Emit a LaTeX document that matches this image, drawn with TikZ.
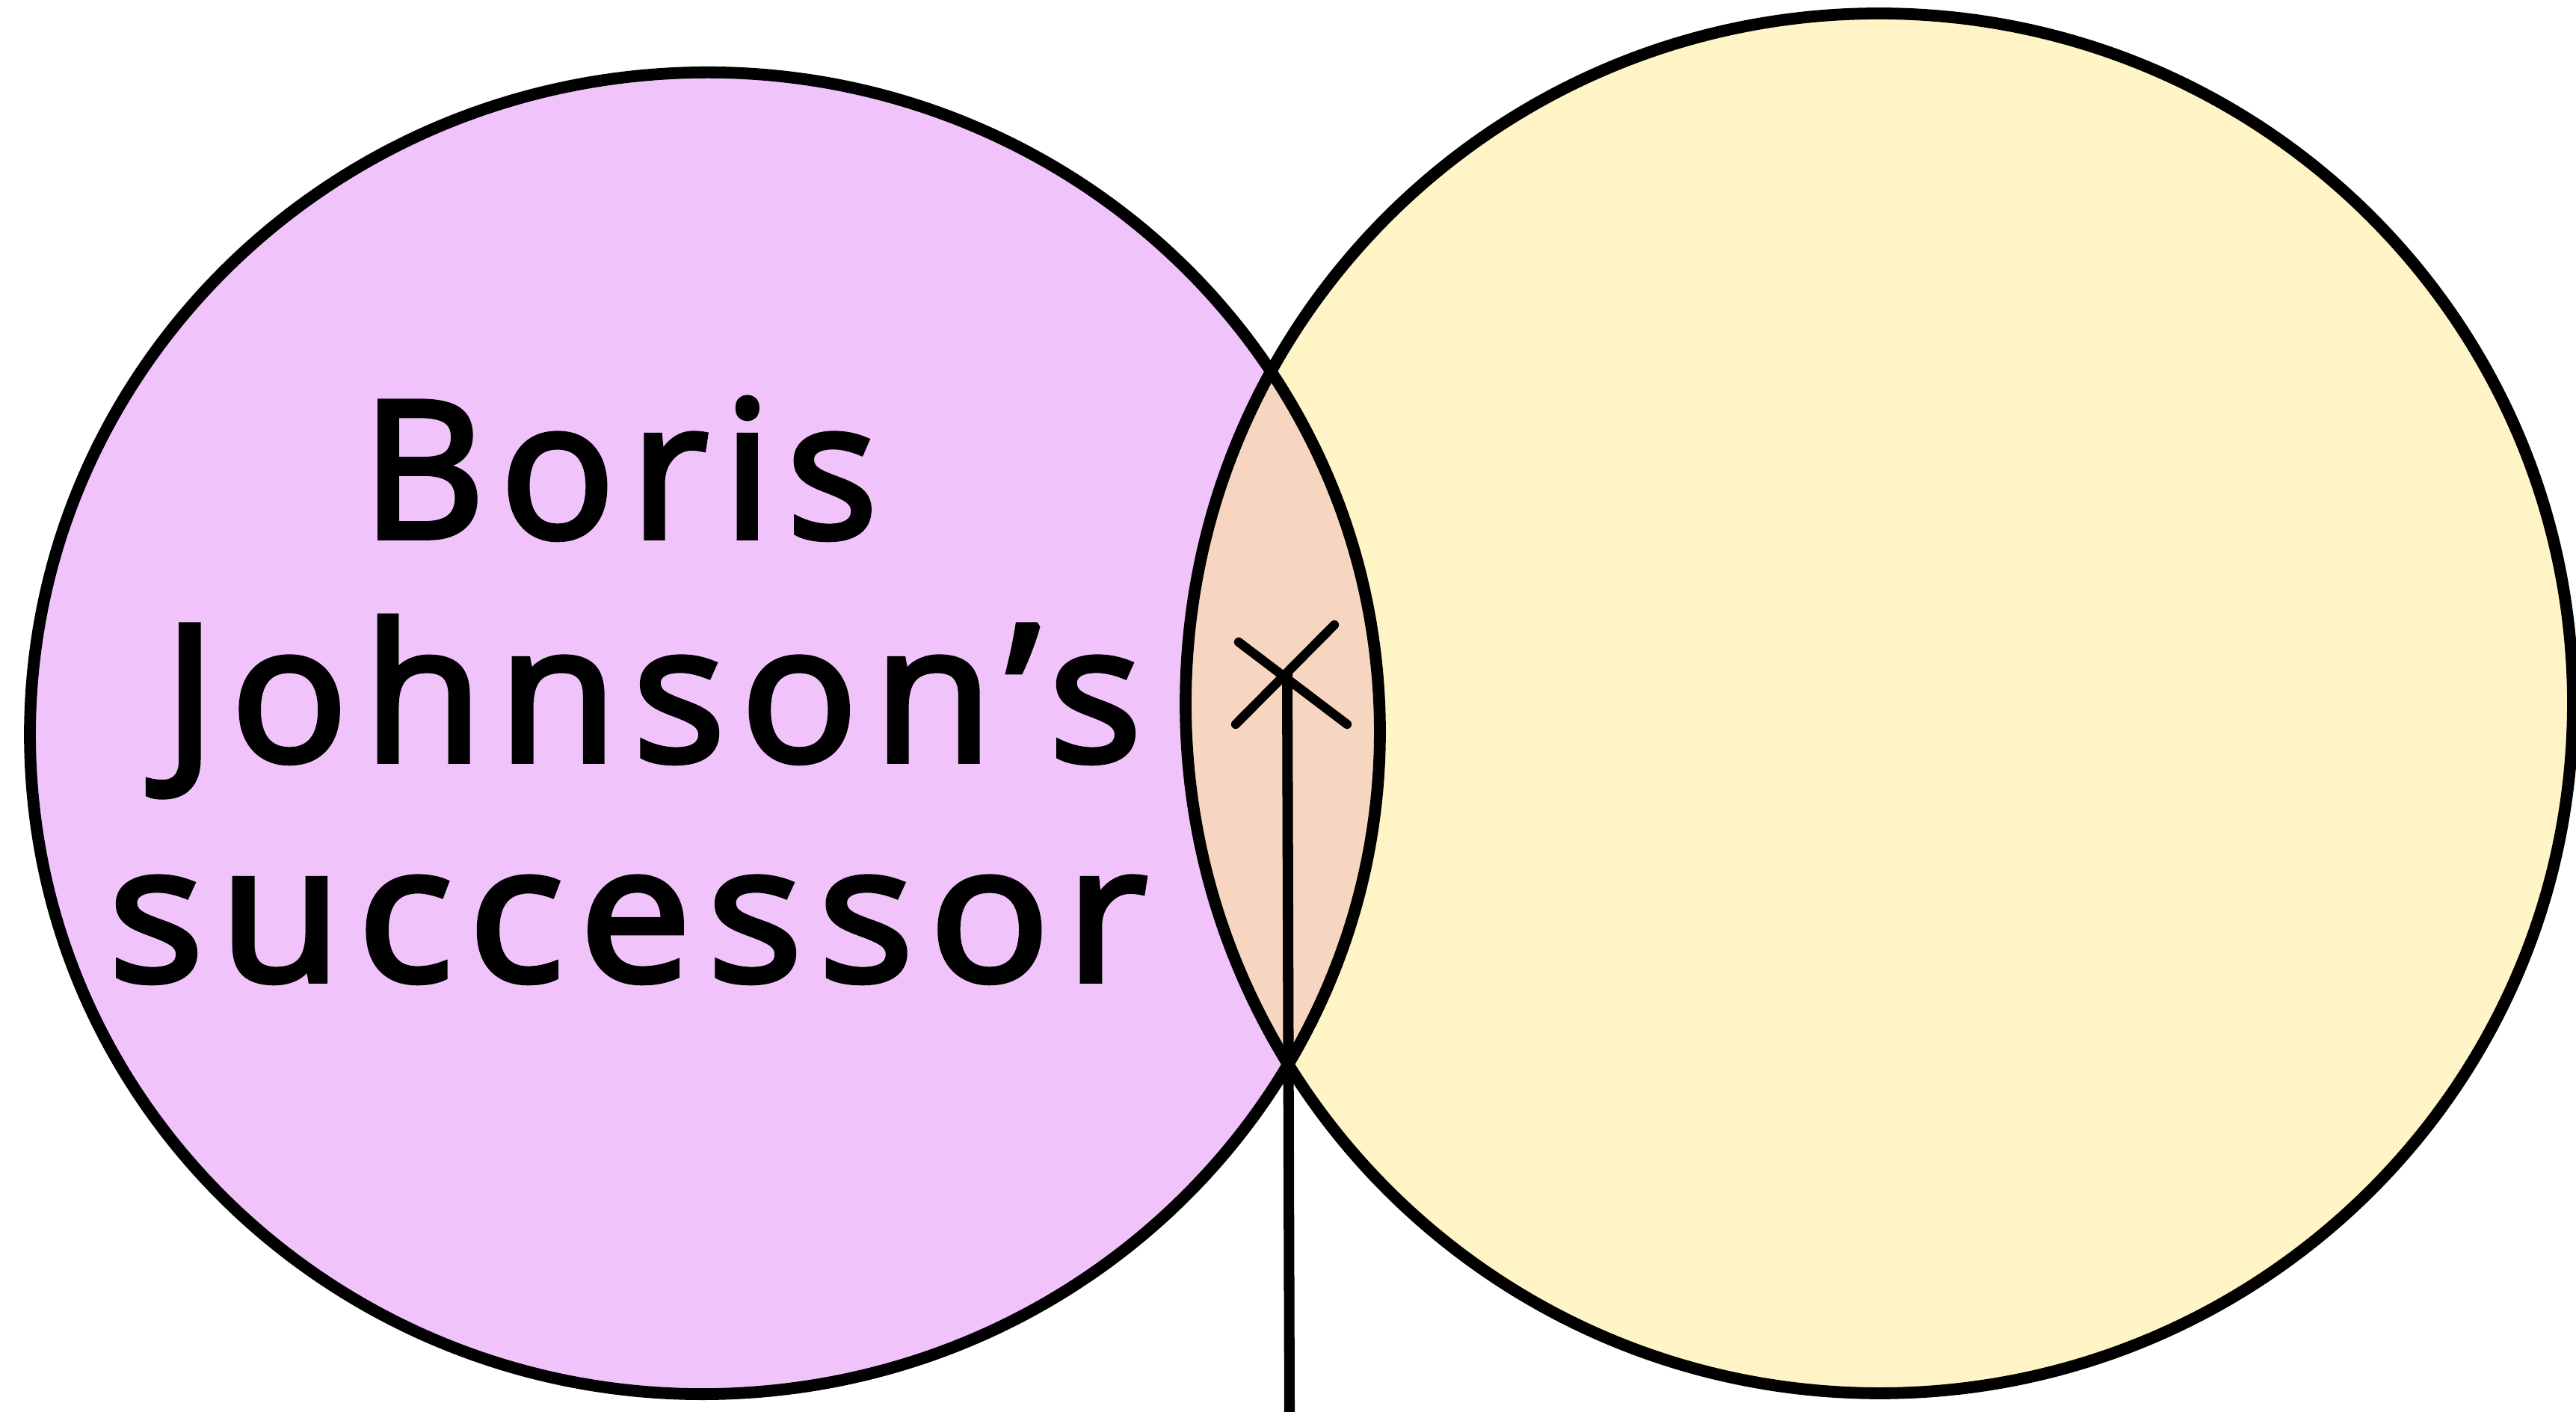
\documentclass[tikz,border=0pt]{standalone}
\usepackage{fontspec}
\setmainfont{Open Sans}
\newfontfamily\handfont{Open Sans}[LetterSpace=8, FakeBold=3]
\usetikzlibrary{positioning}
\definecolor{lilac}{RGB}{240,196,250}
\definecolor{cream}{RGB}{255,244,198}
\definecolor{peach}{RGB}{246,214,192}
\newcommand{\setLeft}{(9.43,9.08) ellipse [x radius=9.03, y radius=8.84]}
\newcommand{\setRight}{(25.14,9.48) ellipse [x radius=9.28, y radius=9.23]}

\begin{document}
\begin{tikzpicture}[
    outline/.style={line width=4.5pt},
    tiltL/.style={rotate around={4:(9.43,9.08)}},
    tiltR/.style={rotate around={-1.4:(25.14,9.48)}},
    words/.style={font=\handfont\fontsize{69}{80}\selectfont, anchor=base, inner sep=0pt}]
  \useasboundingbox (0,0) rectangle (34.46,18.89);

  % Fills
  \fill[lilac, tiltL] \setLeft;
  \fill[cream, tiltR] \setRight;
  \begin{scope}
    \clip[tiltL] \setLeft;
    \fill[peach, tiltR] \setRight;
  \end{scope}

  % Outlines
  \draw[outline, tiltL] \setLeft;
  \draw[outline, tiltR] \setRight;

  % Label
  \node[words] (boris) at (8.29,11.70) {\scalebox{1.05}[1.05]{Boris}};
  \node[words] (johnson) at (8.73,8.71) {\scalebox{1.07}[1.05]{Johnson’s}};
  \node[words] (succ) at (8.40,5.77) {\scalebox{1.1}[1.05]{successor}};

  % Marker
  \coordinate (cross) at (17.22,9.92);
  \coordinate (foot) at (17.25,0);
  \draw[line width=3.5pt, line cap=round] (16.57,10.30) -- (18.02,9.20);
  \draw[line width=3.5pt, line cap=round] (16.53,9.20) -- (17.85,10.53);
  \draw[line width=4pt] (cross) -- (foot);
\end{tikzpicture}
\end{document}
